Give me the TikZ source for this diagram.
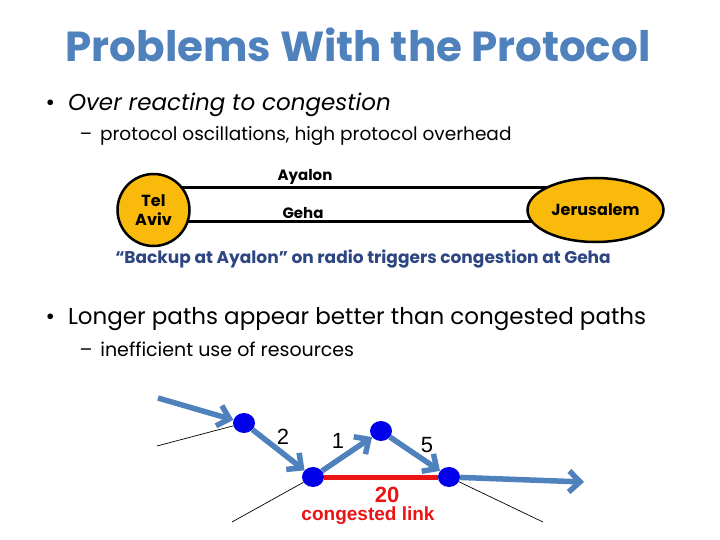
\documentclass[tikz,border=0pt]{standalone}
\usepackage{fontspec}
\setmainfont{Poppins}
\newfontfamily\arialfont{Liberation Sans}
\usetikzlibrary{positioning,shapes.geometric,arrows.meta,backgrounds}
\definecolor{titleblue}{RGB}{79,129,189}
\definecolor{cityfill}{RGB}{250,186,12}
\definecolor{navytext}{RGB}{45,70,130}
\definecolor{nodeblue}{RGB}{0,0,235}
\definecolor{linkred}{RGB}{235,20,20}

\begin{document}
\begin{tikzpicture}[x=1pt,y=-1pt]
        \tikzstyle{city}=[draw, line width=2.5pt, fill=cityfill, inner sep=0pt, font=\fontsize{16}{19}\selectfont\bfseries]
        \tikzstyle{road}=[line width=3pt]
        \tikzstyle{vertex}=[ellipse, fill=nodeblue, minimum width=22pt, minimum height=20pt, inner sep=0pt]
        \tikzstyle{flow}=[line width=5.5pt, titleblue, -{Straight Barb[length=11pt,width=21pt]}]
        \tikzstyle{thin}=[line width=0.7pt]
        \tikzstyle{weight}=[font=\arialfont\fontsize{22}{24}\selectfont]

        \useasboundingbox (0,0) rectangle (720,540);

        % title and bullets
        \node (title) [titleblue, font=\fontsize{42}{46}\selectfont\bfseries] at (358,45) {Problems With the Protocol};
        \node (b1) [anchor=west, font=\fontsize{23}{26}\selectfont] at (42,105) {\textbullet\hspace{13pt}\textit{Over reacting to congestion}};
        \node (s1) [anchor=west, font=\fontsize{18.5}{21}\selectfont] at (76,136) {--\hspace{8pt}protocol oscillations, high protocol overhead};
        \node (b2) [anchor=west, font=\fontsize{23}{26}\selectfont] at (42,319) {\textbullet\hspace{13pt}Longer paths appear better than congested paths};
        \node (s2) [anchor=west, font=\fontsize{19}{21}\selectfont] at (76,349) {--\hspace{8pt}inefficient use of resources};

        % roads
        \node (telaviv) [city, circle, minimum size=72pt, align=center] at (153.5,210) {Tel\\Aviv};
        \node (jerusalem) [city, ellipse, minimum width=136pt, minimum height=64pt] at (595.5,210) {Jerusalem\hspace{10pt}};
        \begin{scope}[on background layer]
            \fill[white] (0,0) rectangle (720,540);
            \draw[road] ([yshift=22pt]telaviv.center) -- ([yshift=22pt]jerusalem.center);
            \draw[road] ([yshift=-12pt]telaviv.center) -- ([yshift=-12pt]jerusalem.center);
        \end{scope}
        \node (ayalon) [font=\fontsize{15}{16}\selectfont\bfseries] at (305,177) {Ayalon};
        \node (geha) [font=\fontsize{15}{16}\selectfont\bfseries] at (303,213) {Geha};
        \node (radio) [navytext, font=\fontsize{17}{19}\selectfont\bfseries] at (363,259) {``Backup at Ayalon'' on radio triggers congestion at Geha};

        % paths
        \node (A) [vertex] at (244,423) {};
        \node (B) [vertex] at (313,477) {};
        \node (C) [vertex] at (381,431) {};
        \node (D) [vertex] at (449,477) {};
        \coordinate (in) at (158,398);
        \coordinate (out) at (584,482);
        \coordinate (t1) at (157,446);
        \coordinate (t2) at (232,522);
        \coordinate (t3) at (543,522);

        \draw[thin] (t1) -- (A);
        \draw[thin] (B) -- (t2);
        \draw[thin] (D) -- (t3);
        \draw[linkred, line width=5pt] (B) -- (D);
        \draw[flow] (in) -- (A);
        \draw[flow] (A) -- (B);
        \draw[flow] (B) -- (C);
        \draw[flow] (C) -- (D);
        \draw[flow] (D) -- (out);

        \node (w2) [weight] at (283,437) {2};
        \node (w1) [weight] at (338,441) {1};
        \node (w5) [weight] at (427,445) {5};
        \node (w20) [weight, linkred, inner sep=0pt, font=\arialfont\fontsize{22}{24}\selectfont\bfseries] at (387,495) {20};
        \node (cong) [linkred, inner sep=0pt, font=\arialfont\fontsize{19}{21}\selectfont\bfseries] at (368,516) {congested link};
\end{tikzpicture}
\end{document}
